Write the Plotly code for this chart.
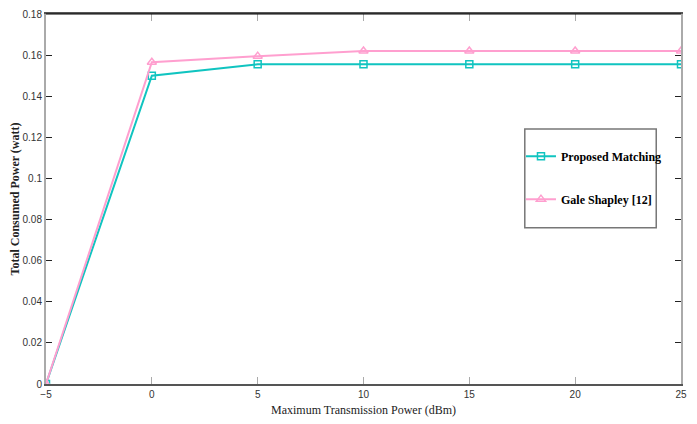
import plotly.graph_objects as go

x_vals = [-5, 0, 5, 10, 15, 20, 25]
proposed = [0.0, 0.150, 0.1555, 0.1555, 0.1555, 0.1555, 0.1555]
gale = [0.0, 0.1565, 0.1595, 0.162, 0.162, 0.162, 0.162]
y_ticks = [0, 0.02, 0.04, 0.06, 0.08, 0.1, 0.12, 0.14, 0.16, 0.18]
y_tick_text = ["0", "0.02", "0.04", "0.06", "0.08", "0.1", "0.12", "0.14", "0.16", "0.18"]

fig = go.Figure()
fig.add_trace(go.Scatter(
    x=x_vals, y=proposed, name="Proposed Matching", mode="lines+markers",
    legendgroup="a",
    line=dict(color="#10c4c0", width=2),
    marker=dict(symbol="square-open", size=7, color="#10c4c0", line=dict(width=1.5)),
))
fig.add_trace(go.Scatter(
    x=x_vals, y=gale, name="Gale Shapley [12]", mode="lines+markers",
    legendgroup="b",
    line=dict(color="#ff9fcf", width=2),
    marker=dict(symbol="triangle-up-open", size=8, color="#ff9fcf", line=dict(width=1.5)),
))

fig.update_layout(
    width=697, height=424,
    margin=dict(l=46, r=16, t=14, b=40),
    paper_bgcolor="white", plot_bgcolor="white",
    font=dict(family="Liberation Sans Narrow, Liberation Sans", size=10, color="#333"),
    showlegend=True,
    legend=dict(
        x=0.748, y=0.655, xanchor="left", yanchor="top",
        borderwidth=0, bgcolor="rgba(0,0,0,0)",
        font=dict(family="Liberation Serif", size=12, color="black", weight="bold"),
        tracegroupgap=24, itemwidth=30,
    ),
    xaxis=dict(
        range=[-5, 25], tickvals=[-5, 0, 5, 10, 15, 20, 25],
        showgrid=False, zeroline=False, showline=True, linecolor="#555", linewidth=2,
        mirror="ticks", ticks="inside", ticklen=7, tickcolor="#aaa", automargin=False,
        title=dict(text="Maximum Transmission Power (dBm)", standoff=7,
                   font=dict(family="Liberation Serif", size=12, color="#222")),
    ),
    yaxis=dict(
        range=[0, 0.18], tickvals=y_ticks, ticktext=y_tick_text,
        showgrid=False, zeroline=False, showline=True, linecolor="#aaa", linewidth=2,
        mirror="ticks", ticks="inside", ticklen=6, tickcolor="#222", automargin=False,
        title=dict(text="Total Consumed Power (watt)", standoff=0,
                   font=dict(family="Liberation Serif", size=12, color="#222", weight="bold")),
    ),
    shapes=[
        dict(type="line", xref="paper", yref="paper", x0=0, x1=1, y0=1, y1=1,
             line=dict(color="black", width=1)),
        dict(type="rect", xref="paper", yref="paper", x0=0.754, x1=0.961, y0=0.422, y1=0.689,
             line=dict(color="#777", width=1.5), fillcolor="white", layer="below"),
    ],
)

fig.write_html("out.html", config={"displayModeBar": False},
               post_script="document.body.style.margin='0';")
